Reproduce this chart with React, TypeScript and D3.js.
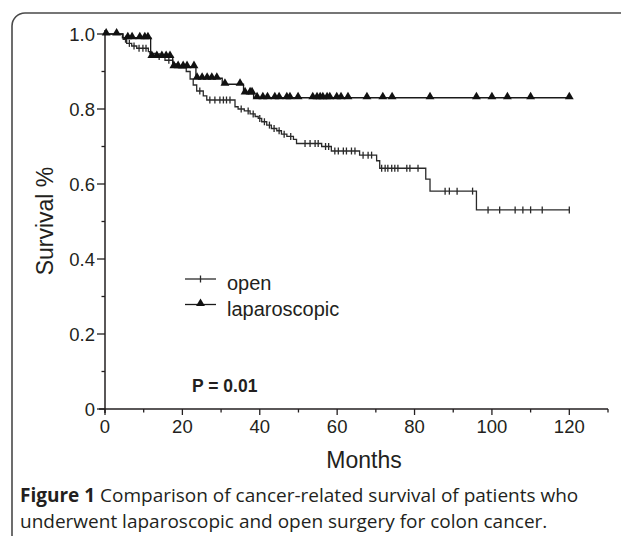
import React from "react";
import * as d3 from "d3";

// ---- data ----
const xTicksMajor = [0, 20, 40, 60, 80, 100, 120];
const xTicksMinor = [10, 30, 50, 70, 90, 110, 130];
const yTicksMajor = [0, 0.2, 0.4, 0.6, 0.8, 1.0];
const yTickLabels = ["0", "0.2", "0.4", "0.6", "0.8", "1.0"];
const yTicksMinor = [0.1, 0.3, 0.5, 0.7, 0.9];

// open surgery: step times (months) and survival after each step
const openTimes = [4.7, 5.6, 6.9, 8.2, 11.2, 11.6, 13, 15.5, 17.5, 19, 21, 22, 22.8, 23.7, 25.4, 26.3, 33.6, 34.4, 36, 37.5, 38.8, 39.6, 40.5, 41.8, 43, 44.4, 45.6, 47, 48.7, 49.5, 56, 58.5, 65.8, 70.2, 71, 82.9, 84, 96];
const openSurv = [0.986, 0.975, 0.968, 0.962, 0.953, 0.948, 0.94, 0.93, 0.92, 0.91, 0.9, 0.88, 0.864, 0.848, 0.835, 0.824, 0.806, 0.8, 0.795, 0.787, 0.78, 0.775, 0.766, 0.757, 0.748, 0.742, 0.733, 0.727, 0.719, 0.708, 0.7, 0.688, 0.677, 0.662, 0.642, 0.613, 0.581, 0.531];
const openCensor = [5.3, 6.3, 7.5, 8.8, 9.8, 10.6, 14, 16.5, 24.5, 27.1, 28.4, 29.7, 30.6, 31.4, 32.3, 35.2, 37, 38.3, 40, 41.2, 42.5, 43.7, 45, 46.3, 48, 51.7, 53, 54.3, 55.1, 57, 57.8, 59.4, 60.3, 61.6, 62.4, 63.7, 64.6, 66.7, 68, 68.9, 71.5, 72.4, 73.1, 74.1, 74.9, 75.7, 78, 78.8, 80.9, 87.9, 89, 91, 95, 99, 102, 106, 108, 110, 113, 120];

// laparoscopic surgery
const lapTimes = [4.5, 11.8, 17.5, 23.5, 30.3, 35.8, 38.4];
const lapSurv = [0.99, 0.94, 0.913, 0.882, 0.866, 0.843, 0.83];
const lapCensor = [0.3, 3, 5.9, 7, 9, 10.3, 11.1, 12.1, 13.4, 14.7, 15.8, 16.8, 17.8, 18.9, 20.2, 21.2, 23, 23.8, 25.1, 26.4, 27.6, 28.9, 31, 34.9, 36.2, 37.5, 38, 39.3, 40.8, 42, 43.9, 45, 47, 47.8, 49.9, 53.7, 54.8, 55.6, 56.3, 57.4, 58.1, 59.9, 61, 62.8, 67.7, 71.8, 74.2, 84, 96, 100, 104, 110, 120];

const followUpEnd = 120;

const W = 621;
const H = 536;
const x = d3.scaleLinear().domain([0, 130]).range([105, 608]);
const y = d3.scaleLinear().domain([0, 1]).range([409, 34]);

function stepPoints(times: number[], surv: number[]): [number, number][] {
  const pts: [number, number][] = [[0, 1]];
  times.forEach((t, i) => pts.push([t, surv[i]]));
  pts.push([followUpEnd, surv[surv.length - 1]]);
  return pts;
}

function survAt(times: number[], surv: number[], t: number): number {
  let s = 1;
  for (let i = 0; i < times.length; i++) {
    if (times[i] <= t) s = surv[i];
  }
  return s;
}

const line = d3
  .line<[number, number]>()
  .x((d) => x(d[0]))
  .y((d) => y(d[1]))
  .curve(d3.curveStepAfter);

const tri = d3.symbol().type(d3.symbolTriangle).size(34)() as string;

const AX = "#231f20";
const SANS = "'Liberation Sans', Arial, Helvetica, sans-serif";
const CAP = "'Open Sans', Lato, sans-serif";

export default function App() {
  const openPath = line(stepPoints(openTimes, openSurv)) as string;
  const lapPath = line(stepPoints(lapTimes, lapSurv)) as string;
  return (
    <svg
      width={W}
      height={H}
      viewBox={`0 0 ${W} ${H}`}
      style={{ position: "absolute", left: 0, top: 0, background: "#fff" }}
    >
      <rect x={12} y={13} width={650} height={535} rx={13} fill="none" stroke="#4a4a4a" strokeWidth={1.6} />

      {/* axes */}
      <line x1={x(0)} x2={x(0)} y1={y(1) - 4} y2={y(0) + 4} stroke={AX} strokeWidth={1.5} />
      <line x1={x(0) - 6} x2={x(130)} y1={y(0)} y2={y(0)} stroke={AX} strokeWidth={1.5} />
      {yTicksMajor.map((v, i) => (
        <g key={"ym" + v}>
          <line x1={x(0) - 8} x2={x(0)} y1={y(v)} y2={y(v)} stroke={AX} strokeWidth={1.3} />
          <text x={95} y={y(v) + 6.5} textAnchor="end" fontFamily={SANS} fontSize={18.5} fill={AX}>
            {yTickLabels[i]}
          </text>
        </g>
      ))}
      {yTicksMinor.map((v) => (
        <line key={"yn" + v} x1={x(0) - 3.5} x2={x(0)} y1={y(v)} y2={y(v)} stroke={AX} strokeWidth={1.3} />
      ))}
      {xTicksMajor.map((v) => (
        <g key={"xm" + v}>
          <line x1={x(v)} x2={x(v)} y1={y(0)} y2={y(0) + 6} stroke={AX} strokeWidth={1.3} />
          <text x={x(v)} y={433} textAnchor="middle" fontFamily={SANS} fontSize={18.5} fill={AX}>
            {v}
          </text>
        </g>
      ))}
      {xTicksMinor.map((v) => (
        <line key={"xn" + v} x1={x(v)} x2={x(v)} y1={y(0)} y2={y(0) + 3.5} stroke={AX} strokeWidth={1.3} />
      ))}

      <text x={364} y={468} textAnchor="middle" fontFamily={SANS} fontSize={23} fill={AX}>
        Months
      </text>
      <text
        transform="translate(53,221) rotate(-90)"
        textAnchor="middle"
        fontFamily={SANS}
        fontSize={23}
        fill={AX}
      >
        Survival %
      </text>

      {/* curves */}
      <path d={openPath} fill="none" stroke="#2a2a2a" strokeWidth={1.3} />
      {openCensor.map((t, i) => {
        const yy = y(survAt(openTimes, openSurv, t));
        return <line key={"oc" + i} x1={x(t)} x2={x(t)} y1={yy - 3.5} y2={yy + 3.5} stroke="#2a2a2a" strokeWidth={1.3} />;
      })}
      <path d={lapPath} fill="none" stroke="#1a1a1a" strokeWidth={1.3} />
      {lapCensor.map((t, i) => {
        const yy = y(survAt(lapTimes, lapSurv, t));
        return <path key={"lc" + i} d={tri} transform={`translate(${x(t)},${yy - 1})`} fill="#111" />;
      })}

      {/* legend */}
      <line x1={185} x2={216} y1={279} y2={279} stroke="#2a2a2a" strokeWidth={1.3} />
      <line x1={200.5} x2={200.5} y1={275.5} y2={282.5} stroke="#2a2a2a" strokeWidth={1.3} />
      <text x={227} y={290} fontFamily={SANS} fontSize={20} fill={AX}>
        open
      </text>
      <line x1={185} x2={216} y1={304.5} y2={304.5} stroke="#1a1a1a" strokeWidth={1.3} />
      <path d={tri} transform="translate(200.5,303.5)" fill="#111" />
      <text x={227} y={316} fontFamily={SANS} fontSize={20} fill={AX}>
        laparoscopic
      </text>

      <text x={192} y={392} fontFamily={SANS} fontSize={17.5} fontWeight="bold" fill={AX}>
        P = 0.01
      </text>

      {/* caption */}
      <text x={20} y={501.5} fontFamily={CAP} fontSize={19} fill="#231f20">
        <tspan fontWeight="bold">Figure 1</tspan> Comparison of cancer-related survival of patients who
      </text>
      <text x={20} y={527.5} fontFamily={CAP} fontSize={19} fill="#231f20">
        underwent laparoscopic and open surgery for colon cancer.
      </text>
    </svg>
  );
}
